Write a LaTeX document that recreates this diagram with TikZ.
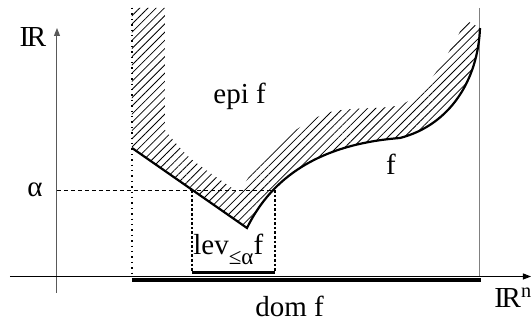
\documentclass[tikz,border=0pt]{standalone}
\usepackage{fontspec}
\setmainfont{Liberation Serif}
\usetikzlibrary{arrows.meta, positioning, patterns.meta}

\begin{document}
\begin{tikzpicture}[x=0.5pt, y=-0.5pt,
    lbl/.style={font=\fontsize{14.5}{16}\selectfont, inner sep=0pt},
    axis/.style={line width=0.5pt, -{Triangle[length=4pt, width=3pt]}},
    bar/.style={line width=2pt},
    hatch/.style={pattern={Lines[angle=45, distance=2.9pt, line width=0.4pt]}}]
  \useasboundingbox (0,0) rectangle (532,320);
  % epigraph
  \fill[hatch] (132,8) -- (165,8) -- plot[smooth] coordinates {(165,130) (190,158) (235,190)}
    -- plot[smooth] coordinates {(238,194) (270,150) (327,113) (400,105) (430,80) (450,50) (466,20)}
    -- (480,28) .. controls (478,80) and (450,125) .. (400,138)
    .. controls (310,145) and (268,185) .. (247,228) -- (132,148) -- cycle;
  % axes
  \coordinate (ybot) at (57,293);
  \coordinate (ytop) at (57,28);
  \coordinate (xleft) at (10,276.5);
  \coordinate (xright) at (531,276.5);
  \draw[axis, gray!70!black] (ybot) -- (ytop);
  \draw[axis] (xleft) -- (xright);
  % domain edges
  \draw[dotted, line width=0.7pt] (132,8) -- (132,276.5);
  \draw[gray, line width=0.5pt] (480,8) -- (480,276.5);
  % level alpha
  \coordinate (la) at (192,190);
  \coordinate (lb) at (275,190);
  \draw[dash pattern=on 2pt off 1.5pt, line width=0.45pt] (57,190) -- (lb);
  \draw[dash pattern=on 1.3pt off 1pt, line width=0.7pt] (la) -- (192,272.5) (lb) -- (275,272.5);
  % f
  \draw[line width=1.1pt] (132,148) -- (247,228) .. controls (268,185) and (310,145) .. (400,138)
    .. controls (450,125) and (478,80) .. (480,28);
  % dom f and lev
  \draw[bar] (132,280.5) -- (481,280.5);
  \draw[line width=1.6pt] (192,272.5) -- (275,272.5);
  % labels
  \node[lbl, anchor=base] (rlab) at (33,47) {I\kern-.08em R};
  \node[lbl, anchor=base] (alab) at (35,197) {α};
  \node[lbl, anchor=base west] (epi) at (213,104) {epi f};
  \node[lbl, anchor=base] (flab) at (391,175) {f};
  \node[lbl, anchor=base west] (lev) at (193,255)
    {lev\raisebox{-0.32em}{\fontsize{11.5}{12}\selectfont ≤α}f};
  \node[lbl, anchor=base west] (dom) at (255,316.5) {dom f};
  \node[lbl, anchor=base west] (rn) at (494,308) {I\kern-.08em R\textsuperscript{n}};
\end{tikzpicture}
\end{document}
